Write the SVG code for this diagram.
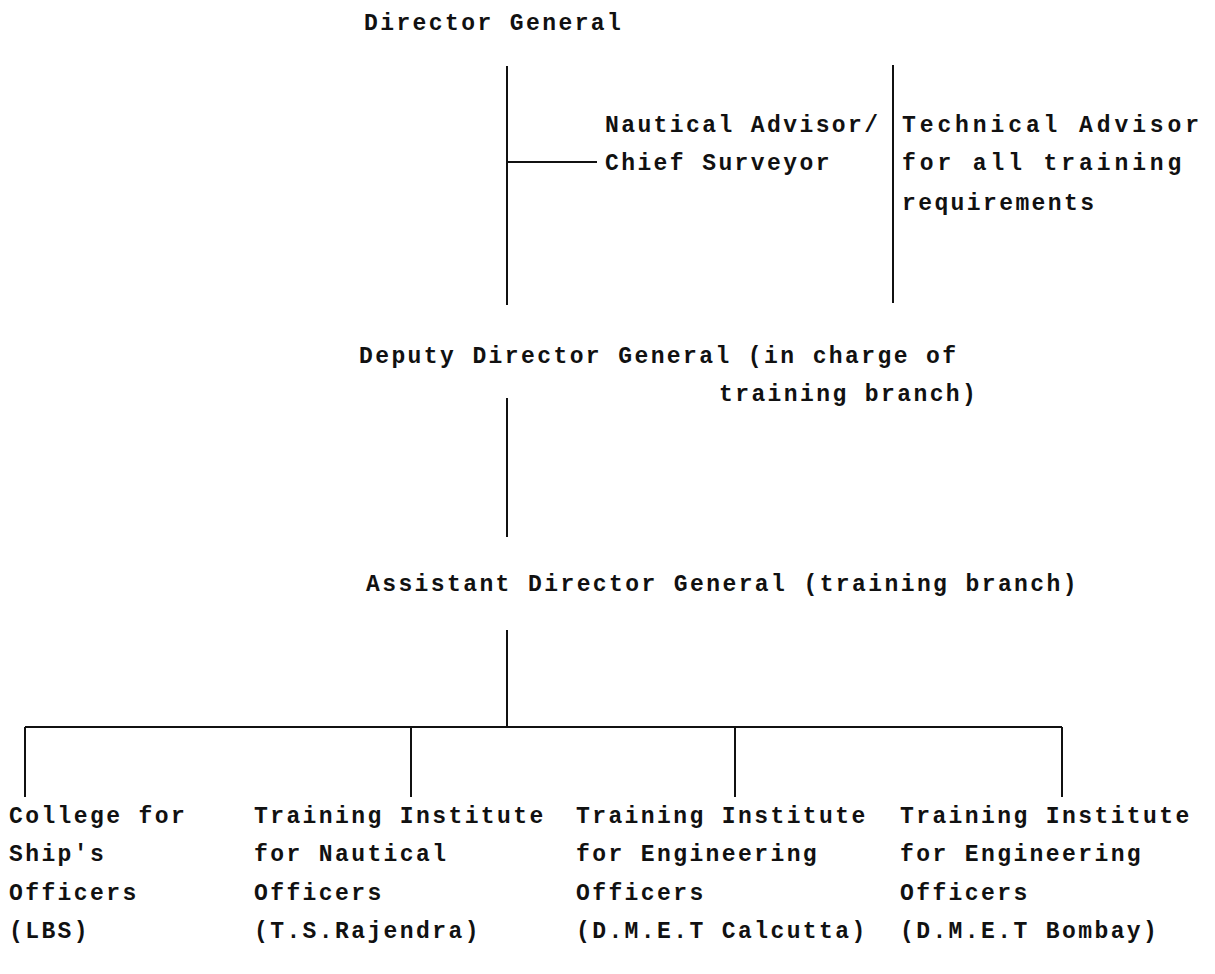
<svg xmlns="http://www.w3.org/2000/svg" width="1215" height="974" viewBox="0 0 1215 974">
<style>
text{font-family:"Liberation Mono","DejaVu Sans Mono",monospace;font-size:23px;font-weight:bold;letter-spacing:2.4px;fill:#111}
.w{letter-spacing:3.9px}
.c{stroke:#111;stroke-width:2;fill:none}
</style>
<rect width="1215" height="974" fill="#fff"/>
<g id="connectors">
<line class="c" x1="507" y1="66" x2="507" y2="305"/>
<line class="c" x1="507" y1="162" x2="597" y2="162"/>
<line class="c" x1="893" y1="65" x2="893" y2="303"/>
<line class="c" x1="507" y1="398" x2="507" y2="537"/>
<line class="c" x1="507" y1="630" x2="507" y2="727"/>
<line class="c" x1="25" y1="727" x2="1062" y2="727"/>
<line class="c" x1="25" y1="727" x2="25" y2="797"/>
<line class="c" x1="411" y1="727" x2="411" y2="797"/>
<line class="c" x1="735" y1="727" x2="735" y2="797"/>
<line class="c" x1="1062" y1="727" x2="1062" y2="797"/>
</g>
<g id="director-general"><text x="364" y="30">Director General</text></g>
<g id="nautical-advisor"><text x="605" y="132">Nautical Advisor/</text><text x="605" y="170">Chief Surveyor</text></g>
<g id="technical-advisor"><text class="w" x="902" y="132">Technical Advisor</text><text class="w" x="902" y="170">for all training</text><text x="902" y="210">requirements</text></g>
<g id="deputy-director-general"><text x="359" y="363">Deputy Director General (in charge of</text><text x="719" y="401">training branch)</text></g>
<g id="assistant-director-general"><text x="366" y="591">Assistant Director General (training branch)</text></g>
<g id="college-ships-officers"><text x="9" y="823">College for</text><text x="9" y="861">Ship's</text><text x="9" y="900">Officers</text><text x="9" y="938">(LBS)</text></g>
<g id="ti-nautical"><text x="254" y="823">Training Institute</text><text x="254" y="861">for Nautical</text><text x="254" y="900">Officers</text><text x="254" y="938">(T.S.Rajendra)</text></g>
<g id="ti-engineering-calcutta"><text x="576" y="823">Training Institute</text><text x="576" y="861">for Engineering</text><text x="576" y="900">Officers</text><text x="576" y="938">(D.M.E.T Calcutta)</text></g>
<g id="ti-engineering-bombay"><text x="900" y="823">Training Institute</text><text x="900" y="861">for Engineering</text><text x="900" y="900">Officers</text><text x="900" y="938">(D.M.E.T Bombay)</text></g>
</svg>
